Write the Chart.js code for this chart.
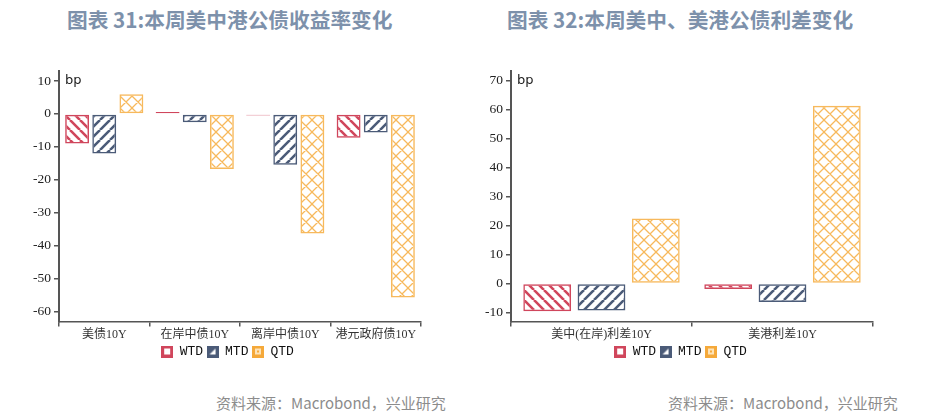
<!DOCTYPE html>
<html lang="zh">
<head>
<meta charset="UTF-8">
<title>本周美中港公债收益率及利差变化</title>
<script src="https://cdn.jsdelivr.net/npm/chart.js"></script>
<style>
  body { margin: 0; width: 929px; height: 418px; background: #fff; position: relative; overflow: hidden; }
  .title { position: absolute; top: 4px; font-family: "Noto Sans CJK SC", sans-serif; font-weight: bold; font-size: 20.7px; color: #7d91ab; white-space: nowrap; }
  .source { position: absolute; top: 392px; font-family: "Noto Sans CJK SC", sans-serif; font-size: 15px; color: #8c8c8c; white-space: nowrap; }
  canvas { position: absolute; }
</style>
</head>
<body>
<div class="title" style="left:67px">图表 31:本周美中港公债收益率变化</div>
<div class="title" style="left:507px">图表 32:本周美中、美港公债利差变化</div>
<canvas id="yieldChart" width="456" height="308" style="left:0px;top:60px"></canvas>
<canvas id="spreadChart" width="432" height="308" style="left:464px;top:60px"></canvas>
<div class="source" style="left:216px">资料来源：Macrobond，兴业研究</div>
<div class="source" style="left:668px">资料来源：Macrobond，兴业研究</div>
<script>
// 左图：收益率变化 (bp)
const yieldLabels = ['美债10Y', '在岸中债10Y', '离岸中债10Y', '港元政府债10Y'];
const yieldWTD = [-9.0, 0.6, -0.5, -7.2];
const yieldMTD = [-12.0, -2.5, -15.4, -5.6];
const yieldQTD = [6.0, -16.7, -36.3, -55.7];
const yieldTicks = [-60, -50, -40, -30, -20, -10, 0, 10];

// 右图：利差变化 (bp)
const spreadLabels = ['美中(在岸)利差10Y', '美港利差10Y'];
const spreadWTD = [-9.6, -1.9];
const spreadMTD = [-9.3, -6.4];
const spreadQTD = [22.5, 61.4];
const spreadTicks = [-10, 0, 10, 20, 30, 40, 50, 60, 70];

const seriesNames = ['WTD', 'MTD', 'QTD'];
const RED = '#d0465c';
const NAVY = '#4b5b78';
const ORANGE = '#f5a93a';

// hatch patterns
function stripes(color, dir, size, lw) {
    const c = document.createElement('canvas');
    c.width = size; c.height = size;
    const g = c.getContext('2d');
    g.strokeStyle = color;
    g.lineWidth = lw;
    g.beginPath();
    for (let k = -1; k <= 1; k++) {
        if (dir > 0) {  // "/"
            g.moveTo(k * size, size);
            g.lineTo(k * size + size, 0);
        } else {        // "\"
            g.moveTo(k * size, 0);
            g.lineTo(k * size + size, size);
        }
    }
    g.stroke();
    return g.createPattern(c, 'repeat');
}

function crosshatch(color, size, lw) {
    const c = document.createElement('canvas');
    c.width = size; c.height = size;
    const g = c.getContext('2d');
    g.strokeStyle = color;
    g.lineWidth = lw;
    g.beginPath();
    for (let k = -1; k <= 1; k++) {
        g.moveTo(k * size, size); g.lineTo(k * size + size, 0);
        g.moveTo(k * size, 0); g.lineTo(k * size + size, size);
    }
    g.stroke();
    return g.createPattern(c, 'repeat');
}

// legend icons
function icon(kind) {
    const c = document.createElement('canvas');
    c.width = 12; c.height = 12;
    const g = c.getContext('2d');
    if (kind === 'WTD') {
        g.fillStyle = RED; g.fillRect(0, 0, 12, 12);
        g.fillStyle = '#fff'; g.fillRect(3, 3, 6, 6);
    } else if (kind === 'MTD') {
        g.fillStyle = NAVY; g.fillRect(0, 0, 12, 12);
        g.fillStyle = '#fff';
        g.beginPath(); g.moveTo(9, 3); g.lineTo(9, 9); g.lineTo(3, 9); g.closePath(); g.fill();
    } else {
        g.fillStyle = ORANGE; g.fillRect(0, 0, 12, 12);
        g.fillStyle = '#fde3b8'; g.fillRect(3, 3, 6, 6);
        g.fillStyle = ORANGE; g.fillRect(5, 5, 2, 2);
    }
    return c;
}

const fills = [stripes(RED, -1, 10, 2.6), stripes(NAVY, 1, 10, 2.6), crosshatch('#f7b95c', 12, 1.3)];
const borders = [RED, NAVY, '#f7b95c'];
const icons = seriesNames.map(icon);

// "bp" 单位
const unitLabel = {
    id: 'unitLabel',
    afterDraw(chart) {
        const ctx = chart.ctx;
        ctx.save();
        ctx.font = '13px "DejaVu Sans", sans-serif';
        ctx.fillStyle = '#222';
        ctx.textBaseline = 'middle';
        ctx.fillText('bp', chart.chartArea.left + 6, chart.chartArea.top + 10);
        ctx.restore();
    }
};

// nudge the legend sideways so it sits under the plot like the original
function legendShift(dx) {
    return {
        id: 'legendShift',
        afterLayout(chart) {
            chart.legend.left += dx;
            chart.legend.right += dx;
        }
    };
}

function makeChart(id, labels, wtd, mtd, qtd, tickValues, yMin, yMax, yWidth, padRight, dx) {
    const values = [wtd, mtd, qtd];
    const ctx = document.getElementById(id).getContext('2d');
    return new Chart(ctx, {
        type: 'bar',
        data: {
            labels: labels,
            datasets: seriesNames.map((name, i) => ({
                label: name,
                data: values[i],
                backgroundColor: fills[i],
                borderColor: borders[i],
                borderWidth: 1.5,
                borderSkipped: false,
                pointStyle: icons[i],
                categoryPercentage: 0.9,
                barPercentage: 0.88
            }))
        },
        options: {
            responsive: false,
            animation: false,
            layout: { padding: { top: 10, right: padRight, bottom: 0, left: 0 } },
            plugins: {
                title: { display: false },
                tooltip: { enabled: false },
                legend: {
                    position: 'bottom',
                    labels: {
                        usePointStyle: true,
                        boxWidth: 12,
                        boxHeight: 12,
                        padding: 3.5,
                        color: '#111',
                        font: { family: '"Liberation Mono", monospace', size: 13 }
                    }
                }
            },
            scales: {
                x: {
                    afterFit(scale) {
                        scale.height = 20;
                    },
                    grid: { display: true, drawOnChartArea: false, drawTicks: true, tickLength: 5, color: '#555', lineWidth: 1.5 },
                    border: { display: true, color: '#555', width: 1.5 },
                    ticks: {
                        color: '#333',
                        padding: 1,
                        maxRotation: 0,
                        font: { family: '"Liberation Serif", "Noto Sans CJK SC", serif', size: 12 }
                    }
                },
                y: {
                    min: yMin,
                    max: yMax,
                    afterBuildTicks(scale) {
                        scale.ticks = tickValues.map(v => ({ value: v }));
                    },
                    afterFit(scale) {
                        scale.width = yWidth;
                    },
                    grid: { display: true, drawOnChartArea: false, drawTicks: true, tickLength: 5, color: '#555', lineWidth: 1.5 },
                    border: { display: true, color: '#555', width: 2 },
                    ticks: {
                        color: '#222',
                        padding: 3,
                        font: { family: '"Liberation Serif", serif', size: 13.5 }
                    }
                }
            }
        },
        plugins: [unitLabel, legendShift(dx)]
    });
}

makeChart('yieldChart', yieldLabels, yieldWTD, yieldMTD, yieldQTD, yieldTicks, -63, 13, 59, 35, 17);
makeChart('spreadChart', spreadLabels, spreadWTD, spreadMTD, spreadQTD, spreadTicks, -13.1, 73.4, 47, 23, 12);
</script>
</body>
</html>
